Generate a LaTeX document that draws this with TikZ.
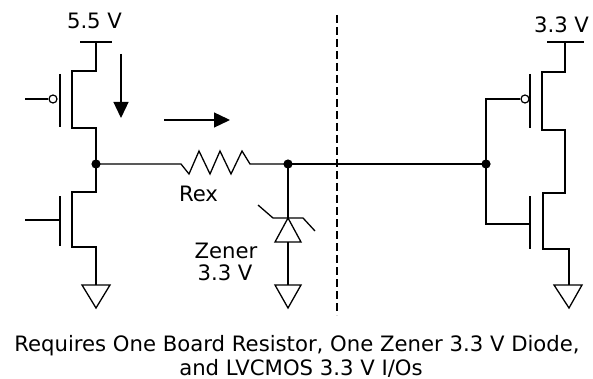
\documentclass[tikz,border=0pt]{standalone}
\usepackage{fontspec}
\setmainfont{DejaVu Sans}
\usetikzlibrary{arrows.meta}
\tikzset{
  wire/.style={line width=0.65pt, line join=miter},
  dotnode/.style={circle, fill=black, inner sep=0pt, minimum size=4.6pt},
  bubble/.style={circle, draw, fill=white, line width=0.6pt, inner sep=0pt, minimum size=4pt},
  lbl/.style={font=\fontsize{10.6pt}{13pt}\selectfont, inner sep=0pt, anchor=base},
  flow/.style={line width=0.65pt, -{Triangle[length=8pt,width=7.5pt]}},
  divider/.style={line width=0.6pt, dash pattern=on 4pt off 2pt},
  gnd/.style={line width=0.65pt}
}
\begin{document}
\begin{tikzpicture}[x=0.5pt,y=-0.5pt]
\useasboundingbox (0,0) rectangle (593,379);

% ---------- left driver (5.5 V) ----------
\coordinate (vddLl) at (80,42);
\coordinate (vddLr) at (112,42);
\coordinate (vddL) at (96,42);
\node[lbl] (l55) at (94.5,29) {5.5 V};
\draw[wire] (vddLl) -- (vddLr);
\node[dotnode] (nA) at (96,164) {};
\draw[wire] (vddL) -- (96,71) -- (72,71) -- (72,128) -- (96,128) -- (nA.center);
\draw[wire] (60,74) -- (60,127);
\node[bubble] (bubL) at (53,99) {};
\coordinate (gLp) at (25,99);
\draw[wire] (gLp) -- (bubL);
\coordinate (gndL) at (96,285);
\draw[wire] (nA.center) -- (96,192) -- (72,192) -- (72,247) -- (96,247) -- (gndL);
\draw[wire] (60,196) -- (60,246);
\coordinate (gLn) at (25,220);
\draw[wire] (gLn) -- (60,220);
\draw[gnd] (82,285) -- (110,285) -- (96,308) -- cycle;

% current arrows
\coordinate (a1s) at (121,54);
\coordinate (a1e) at (121,118);
\draw[flow] (a1s) -- (a1e);
\coordinate (a2s) at (164,120);
\coordinate (a2e) at (230,120);
\draw[flow] (a2s) -- (a2e);

% ---------- resistor Rex ----------
\coordinate (rA) at (181,164);
\coordinate (rB) at (250,164);
\node[dotnode] (nB) at (288,164) {};
\draw[wire] (nA.center) -- (rA) -- (189,174) -- (199,151) -- (210,174) -- (220,151) -- (231,174) -- (242,151) -- (rB) -- (nB.center);
\node[lbl] (lrex) at (198.5,201) {Rex};

% ---------- zener ----------
\coordinate (zK) at (288,218);
\coordinate (zA) at (288,242);
\coordinate (gndZ) at (288,285);
\draw[wire] (nB.center) -- (zK);
\draw[wire] (zK) -- (275,242) -- (301,242) -- cycle;
\draw[wire] (258,205) -- (273,218) -- (303,218) -- (315,231);
\draw[wire] (zA) -- (gndZ);
\draw[gnd] (275,285) -- (301,285) -- (288,308) -- cycle;
\node[lbl] (lz1) at (226,258) {Zener};
\node[lbl] (lz2) at (225,280) {3.3 V};

% ---------- divider ----------
\coordinate (dT) at (337,15);
\coordinate (dB) at (337,315);
\draw[divider] (dT) -- (dB);

% ---------- right receiver (3.3 V) ----------
\node[dotnode] (nC) at (486,164) {};
\draw[wire] (nB.center) -- (nC.center);
\coordinate (vddR) at (565,42);
\draw[wire] (547,42) -- (584,42);
\node[lbl] (l33) at (561.5,33) {3.3 V};
\coordinate (gndR) at (569,285);
\draw[wire] (vddR) -- (565,72) -- (542,72) -- (542,130) -- (565,130) -- (565,193) -- (543,193) -- (543,249) -- (569,249) -- (gndR);
\draw[wire] (530,74) -- (530,128);
\draw[wire] (530,196) -- (530,249);
\node[bubble] (bubR) at (525,99) {};
\draw[wire] (bubR) -- (486,99) -- (nC.center) -- (486,224) -- (530,224);
\draw[gnd] (554,285) -- (582,285) -- (569,308) -- cycle;

% ---------- caption ----------
\node[lbl] (cap1) at (297,351) {Requires One Board Resistor, One Zener 3.3 V Diode,};
\node[lbl] (cap2) at (301,375) {and LVCMOS 3.3 V I/Os};
\end{tikzpicture}
\end{document}
